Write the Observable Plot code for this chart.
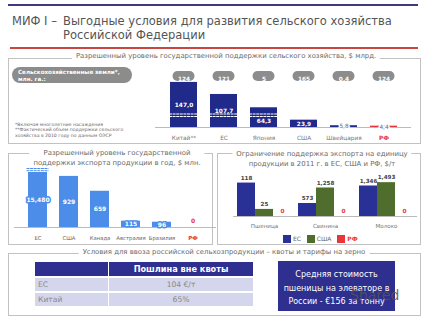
<!DOCTYPE html>
<html><head><meta charset="utf-8">
<script src="https://cdn.jsdelivr.net/npm/d3@7"></script>
<script src="https://cdn.jsdelivr.net/npm/@observablehq/plot@0.6"></script>
<style>
body{margin:0;background:#fff;font-family:"DejaVu Sans",sans-serif;}
#page{position:relative;width:427px;height:320px;overflow:hidden;background:#fff;}
.abs{position:absolute;}
.box{position:absolute;border:1px solid #c2c2c2;box-sizing:border-box;}
.pt{position:absolute;background:#fff;color:#6a6a6a;font-size:6.9px;text-align:center;white-space:nowrap;line-height:10px;transform:translateX(-50%);padding:0 4px;}
</style></head>
<body><div id="page">
<div class="abs" style="left:8px;top:4px;width:410px;height:2px;background:#3b3b7d"></div>
<div class="abs" style="left:12px;top:15px;font-size:11.5px;color:#555;line-height:13.5px;white-space:nowrap">МИФ I –</div>
<div class="abs" style="left:63px;top:15px;font-size:11.5px;color:#555;line-height:13.5px;white-space:nowrap">Выгодные условия для развития сельского хозяйства<br>Российской Федерации</div>
<div class="abs" style="left:10px;top:47px;width:408px;height:1.5px;background:#c9453f"></div>

<div class="box" style="left:8px;top:58px;width:413px;height:86px"></div>
<div class="pt" style="left:226px;top:51px">Разрешенный уровень государственной поддержки сельского хозяйства, $ млрд.</div>
<div class="abs" style="left:12px;top:67px;width:120px;height:16px;border-radius:8px;background:#8c8c8c;color:#fff;font-weight:bold;font-size:5.6px;line-height:6.5px;padding:2px 0 0 6px;box-sizing:border-box">Сельскохозяйственные земли*,<br>млн. га.:</div>
<div class="abs" style="left:15px;top:122px;font-size:4.6px;color:#666;line-height:5.4px;white-space:nowrap">*Включая многолетние насаждения<br>**Фактический объем поддержки сельского<br>хозяйства в 2010 году по данным ОЭСР</div>
<div id="c1" class="abs" style="left:150px;top:62px"></div>

<div class="box" style="left:8px;top:153px;width:205px;height:92px"></div>
<div class="pt" style="left:117px;top:148px;line-height:10px">Разрешенный уровень государственной<br>поддержки экспорта продукции в год, $ млн.</div>
<div id="c2" class="abs" style="left:10px;top:165px"></div>

<div class="box" style="left:217px;top:153px;width:204px;height:92px"></div>
<div class="pt" style="left:322px;top:149px;line-height:10px">Ограничение поддержка экспорта на единицу<br>продукции в 2011 г. в ЕС, США и РФ, $/т</div>
<div id="c3" class="abs" style="left:224px;top:168px"></div>
<div class="abs" style="left:283px;top:235px;font-size:6px;color:#666;white-space:nowrap;line-height:8px">
<span style="display:inline-block;width:8px;height:8px;background:#2a3196;vertical-align:top"></span> ЕС
<span style="display:inline-block;width:8px;height:8px;background:#4f6e2e;vertical-align:top;margin-left:4px"></span> США
<span style="display:inline-block;width:8px;height:8px;background:#e8353a;vertical-align:top;margin-left:4px"></span> <b style="color:#e8353a">РФ</b></div>

<div class="box" style="left:8px;top:253px;width:413px;height:63px"></div>
<div class="pt" style="left:224px;top:247px">Условия для ввоза российской сельхозпродукции – квоты и тарифы на зерно</div>
<div id="tbl" class="abs" style="left:35px;top:262px"></div>
<div class="abs" style="left:278px;top:261px;width:117px;height:50px;background:#2e2f8f;color:#fff;font-size:8px;line-height:13.5px;text-align:center;padding-top:7px;box-sizing:border-box;white-space:nowrap">Средняя стоимость<br>пшеницы на элеваторе в<br>России - €156 за тонну</div>
<div class="abs" style="left:350px;top:287px;font-size:14px;color:#555;opacity:0.85">Shared</div>
</div>
<script>
// Panel 1: permitted agricultural support, $ bn
const supportCountries = ["Китай**","ЕС","Япония","США","Швейцария","РФ"];
const supportValues = [147.0,107.7,64.3,23.9,5.8,4.4];
const landValues = [124,121,5,165,0.4,124];
const supportBreak = 40; // broken-bar mark, $ bn
// Panel 2: export support, $ mn
const exportCountries = ["ЕС","США","Канада","Австралия","Бразилия","РФ"];
const exportValues = [15480,929,659,115,96,0];
const exportAxisMax = 1000;
// Panel 3: export support per unit, $/t
const products = ["Пшеница","Свинина","Молоко"];
const euLimits = [118,573,1346];
const usLimits = [25,1258,1493];
const rfLimits = [0,0,0];
const productAxisMax = [120,1500,1500];
// Panel 4: tariffs
const tariffHeader = "Пошлина вне квоты";
const tariffCountries = ["ЕС","Китай"];
const tariffValues = ["104 €/т","65%"];

const navy = "#1f2a8a", red = "#e8353a", blue = "#4b8de8";
const comma = v => String(v).replace(".", ",");
const font = {fontFamily:"DejaVu Sans", background:"transparent", overflow:"visible"};

const support = supportCountries.map((c,i)=>({country:c, value:supportValues[i], land:landValues[i], rf:c==="РФ"}));
const broken = support.filter(d=>d.value>supportBreak+10);
const labelY = d => (d.value>supportBreak+10 && d.value/2 < supportBreak+8) ? supportBreak/2 : d.value/2;
const c1 = Plot.plot({
  width:262, height:82, marginLeft:5, marginRight:1, marginTop:0, marginBottom:17,
  style:font,
  x:{domain:supportCountries, padding:0.33, axis:null},
  y:{domain:[0,212], axis:null},
  marks:[
    Plot.ruleY([0],{stroke:"#aaa", strokeWidth:0.8}),
    Plot.barY(support,{x:"country", y:"value", fill:d=>d.rf?red:navy}),
    Plot.tickY(broken,{x:"country", y:supportBreak, dy:-1.3, stroke:"white", strokeWidth:1.1, insetLeft:-1, insetRight:-1, strokeDasharray:"3,0.6"}),
    Plot.tickY(broken,{x:"country", y:supportBreak, dy:1.3, stroke:"white", strokeWidth:1.1, insetLeft:-1, insetRight:-1, strokeDasharray:"3,0.6"}),
    Plot.cell(support,{x:"country", fill:"#8c8c8c", rx:5, insetTop:9, insetBottom:46, insetLeft:2.5, insetRight:2.5}),
    Plot.text(support,{x:"country", text:d=>comma(d.land), frameAnchor:"top", dy:14, fill:"white", fontWeight:"bold", fontSize:5.8}),
    Plot.text(support.filter(d=>d.value>10),{x:"country", y:labelY, text:d=>comma(d.value.toFixed(1)), fill:"white", fontWeight:"bold", fontSize:5.8}),
    Plot.text(support.filter(d=>d.value<=10),{x:"country", y:d=>d.value/2, text:d=>comma(d.value.toFixed(1)), fill:"#666", stroke:"white", strokeWidth:3, fontSize:5.8}),
    Plot.text(support.filter(d=>!d.rf),{x:"country", text:"country", frameAnchor:"bottom", dy:12, fill:"#777", fontSize:5.8}),
    Plot.text(support.filter(d=>d.rf),{x:"country", text:"country", frameAnchor:"bottom", dy:12, fill:red, fontWeight:"bold", fontSize:5.8})
  ]
});
document.getElementById("c1").append(c1);

const exp = exportCountries.map((c,i)=>({country:c, value:exportValues[i], rf:c==="РФ"}));
const capped = exp.filter(d=>d.value>exportAxisMax);
const c2 = Plot.plot({
  width:206, height:77, marginLeft:4, marginRight:0, marginTop:7, marginBottom:15,
  style:font,
  x:{domain:exportCountries, padding:0.4, axis:null},
  y:{domain:[0,exportAxisMax], clamp:true, axis:null},
  marks:[
    Plot.ruleY([0],{stroke:"#aaa", strokeWidth:0.8}),
    Plot.barY(exp.filter(d=>d.value>0),{x:"country", y:"value", fill:blue}),
    Plot.tickY(capped,{x:"country", y:exportAxisMax, dy:-1.8, stroke:blue, strokeWidth:1, insetLeft:-1.5, insetRight:-1.5, strokeDasharray:"3,0.6"}),
    Plot.tickY(capped,{x:"country", y:exportAxisMax, dy:-4, stroke:blue, strokeWidth:1, insetLeft:-1.5, insetRight:-1.5, strokeDasharray:"3,0.6"}),
    Plot.text(exp.filter(d=>d.value>0),{x:"country", y:d=>Math.min(d.value,exportAxisMax)/2, text:d=>d3.format(",")(d.value), fill:"white", stroke:blue, strokeWidth:3, fontWeight:"bold", fontSize:6}),
    Plot.text(exp.filter(d=>d.value===0),{x:"country", y:0, dy:-6, text:d=>String(d.value), fill:red, fontWeight:"bold", fontSize:6}),
    Plot.text(exp.filter(d=>!d.rf),{x:"country", text:"country", frameAnchor:"bottom", dy:12, fill:"#666", fontSize:5.3}),
    Plot.text(exp.filter(d=>d.rf),{x:"country", text:"country", frameAnchor:"bottom", dy:12, fill:red, fontWeight:"bold", fontSize:5.5})
  ]
});
document.getElementById("c2").append(c2);

const colorOf = {"ЕС":"#2a3196","США":"#4f6e2e","РФ":red};
const limits = products.flatMap((p,i)=>[
  {product:p, country:"ЕС", value:euLimits[i], axisMax:productAxisMax[i]},
  {product:p, country:"США", value:usLimits[i], axisMax:productAxisMax[i]},
  {product:p, country:"РФ", value:rfLimits[i], axisMax:productAxisMax[i]}
]);
const c3 = Plot.plot({
  width:196, height:64, marginLeft:12, marginRight:6, marginTop:14, marginBottom:16,
  style:font,
  fx:{domain:products, padding:0.12, axis:null},
  x:{domain:["ЕС","США","РФ"], padding:0, axis:null},
  y:{domain:[0,1], axis:null},
  marks:[
    Plot.ruleY([0],{stroke:"#aaa", strokeWidth:0.8, insetLeft:-4, insetRight:-4}),
    Plot.barY(limits.filter(d=>d.value>0),{fx:"product", x:"country", y:d=>d.value/d.axisMax, fill:d=>colorOf[d.country]}),
    Plot.text(limits.filter(d=>d.value>0),{fx:"product", x:"country", y:d=>d.value/d.axisMax, dy:-5, text:d=>d3.format(",")(d.value), fill:"#444", fontWeight:"bold", fontSize:5.6}),
    Plot.text(limits.filter(d=>d.value===0),{fx:"product", x:"country", y:0, dy:-5, text:d=>String(d.value), fill:red, fontWeight:"bold", fontSize:5.8}),
    Plot.text(products,{fx:d=>d, text:d=>d, frameAnchor:"bottom", dy:11, fill:"#777", fontSize:5.6})
  ]
});
document.getElementById("c3").append(c3);

// table
const t = document.getElementById("tbl");
let html = '<table style="border-collapse:separate;border-spacing:1px 2px;font-family:DejaVu Sans;margin:-2px -1px">';
html += '<tr style="height:14px"><td style="width:71px;background:#2e2f8f"></td><td style="width:142px;background:#2e2f8f;color:#fff;font-weight:bold;font-size:8.2px;text-align:center">'+tariffHeader+'</td></tr>';
tariffCountries.forEach((c,i)=>{
  html += '<tr style="height:13px"><td style="background:#d3d6ec;color:#888;font-size:7.6px;padding-left:3px">'+c+'</td><td style="background:#d3d6ec;color:#888;font-size:7.6px;text-align:center">'+tariffValues[i]+'</td></tr>';
});
html += '</table>';
t.innerHTML = html;
</script>
</body></html>
